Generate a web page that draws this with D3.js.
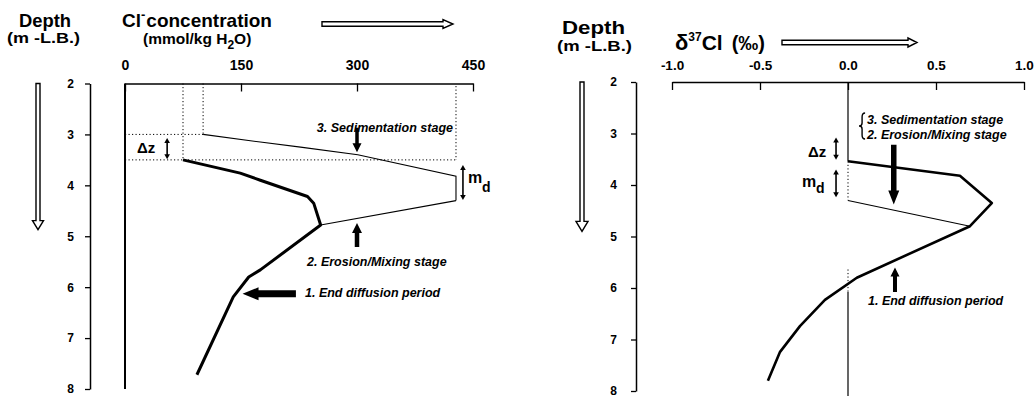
<!DOCTYPE html>
<html>
<head>
<meta charset="utf-8">
<script src="https://cdnjs.cloudflare.com/ajax/libs/d3/7.8.5/d3.min.js"></script>
<style>
  body { margin: 0; background: #fff; }
  svg { display: block; font-family: "Liberation Sans", Arial, sans-serif; }
</style>
</head>
<body>
<div id="chart"></div>
<script>
// tick values
const depthTicks = [2, 3, 4, 5, 6, 7, 8];
const concTicks = [0, 150, 300, 450];
const deltaTicks = [-1.0, -0.5, 0.0, 0.5, 1.0];

// left panel: Cl- (mmol/kg H2O) vs depth (m below lake bottom)
const clEndDiffusion = [[75, 3.5], [149, 3.76], [175, 3.9], [236, 4.22], [244, 4.35], [253, 4.78],
  [175, 5.66], [160, 5.8], [140, 6.19], [93, 7.72]];
const clSedimentation = [[101, 3.0], [175, 3.15], [227, 3.25], [301, 3.4], [428, 3.82], [428, 4.3]];
const clErosion = [[253, 4.78], [428, 4.3]];
// dotted guide lines (conc, depth)
const clGuides = [
  [[75, 2], [75, 3.5]], [[101, 2], [101, 3.0]], [[0, 3.0], [101, 3.0]],
  [[0, 3.5], [428, 3.5]], [[428, 2.05], [428, 3.5]]
];

// right panel: d37Cl (permil) vs depth
const d37EndDiffusion = [[0, 3.54], [0.636, 3.82], [0.817, 4.35], [0.693, 4.8], [0.05, 5.8],
  [-0.131, 6.23], [-0.273, 6.74], [-0.386, 7.24], [-0.455, 7.8]];
const d37Erosion = [[0, 4.3], [0.693, 4.8]];
const zeroSolid = [[[0, 2], [0, 3.54]], [[0, 6.08], [0, 8.1]]];
const zeroDotted = [[[0, 3.54], [0, 4.3]], [[0, 5.64], [0, 6.08]]];

const W = 1035, H = 396;
const svg = d3.select("#chart").append("svg").attr("width", W).attr("height", H);
svg.append("rect").attr("width", W).attr("height", H).attr("fill", "#fff");

const xL = d3.scaleLinear().domain([0, 450]).range([125, 473]);
const yL = d3.scaleLinear().domain([2, 8]).range([83.5, 389]);
const xR = d3.scaleLinear().domain([-1, 1]).range([672, 1024]);
const yR = d3.scaleLinear().domain([2, 8]).range([82, 391]);

// ---- axes ----
function depthAxis(y, x0, pad) {
  const g = svg.append("g").attr("transform", `translate(${x0},0)`)
    .call(d3.axisLeft(y).tickValues(depthTicks).tickFormat(d => d).tickSize(5).tickSizeOuter(0).tickPadding(pad));
  g.attr("font-family", null).attr("font-size", 12).attr("font-weight", "bold");
  g.select(".domain").attr("stroke-width", 1.5);
  g.selectAll(".tick line").attr("stroke-width", 1.3);
}
depthAxis(yL, 90, 11);
depthAxis(yR, 636, 14);

function topAxis(x, y0, ticks, fmt, pad, fs) {
  const g = svg.append("g").attr("transform", `translate(0,${y0})`)
    .call(d3.axisTop(x).tickValues(ticks).tickFormat(fmt).tickSizeInner(-8).tickSizeOuter(0).tickPadding(pad));
  g.attr("font-family", null).attr("font-size", fs).attr("font-weight", "bold");
  g.select(".domain").attr("stroke-width", 1.5);
  g.selectAll(".tick line").attr("stroke-width", 1.3);
}
topAxis(xL, yL(2), concTicks, d => d, 13.5, 14);
topAxis(xR, yR(2), deltaTicks, d => d.toFixed(1), 12, 13.5);

// left frame line at 0 mmol
svg.append("line").attr("x1", xL(0)).attr("x2", xL(0)).attr("y1", yL(2)).attr("y2", yL(8))
  .attr("stroke", "#000").attr("stroke-width", 2);

// ---- curves ----
const lineL = d3.line().x(d => xL(d[0])).y(d => yL(d[1]));
const lineR = d3.line().x(d => xR(d[0])).y(d => yR(d[1]));

clGuides.forEach(s => svg.append("path").attr("d", lineL(s)).attr("fill", "none")
  .attr("stroke", "#000").attr("stroke-width", 1).attr("stroke-dasharray", "1.2,2.3"));
svg.append("path").attr("d", lineL(clSedimentation)).attr("fill", "none").attr("stroke", "#000").attr("stroke-width", 1.1);
svg.append("path").attr("d", lineL(clErosion)).attr("fill", "none").attr("stroke", "#000").attr("stroke-width", 1.1);
svg.append("path").attr("d", lineL(clEndDiffusion)).attr("fill", "none").attr("stroke", "#000")
  .attr("stroke-width", 3).attr("stroke-linejoin", "round");

zeroSolid.forEach(s => svg.append("path").attr("d", lineR(s)).attr("stroke", "#000").attr("stroke-width", 1.2));
zeroDotted.forEach(s => svg.append("path").attr("d", lineR(s)).attr("stroke", "#000")
  .attr("stroke-width", 1).attr("stroke-dasharray", "1.2,2.3"));
svg.append("path").attr("d", lineR(d37Erosion)).attr("fill", "none").attr("stroke", "#000").attr("stroke-width", 1.1);
svg.append("path").attr("d", lineR(d37EndDiffusion)).attr("fill", "none").attr("stroke", "#000")
  .attr("stroke-width", 2.6).attr("stroke-linejoin", "round");

// ---- arrow helpers ----
function arrowPts(x1, y1, x2, y2, sw, hw, hl) {
  const dx = x2 - x1, dy = y2 - y1, L = Math.hypot(dx, dy);
  const ux = dx / L, uy = dy / L, px = -uy, py = ux;
  const bx = x2 - ux * hl, by = y2 - uy * hl;
  return [[x1 + px * sw / 2, y1 + py * sw / 2], [bx + px * sw / 2, by + py * sw / 2],
    [bx + px * hw / 2, by + py * hw / 2], [x2, y2], [bx - px * hw / 2, by - py * hw / 2],
    [bx - px * sw / 2, by - py * sw / 2], [x1 - px * sw / 2, y1 - py * sw / 2]];
}
function solidArrow(x1, y1, x2, y2, sw, hw, hl) {
  svg.append("path").attr("d", "M" + arrowPts(x1, y1, x2, y2, sw, hw, hl).join("L") + "Z").attr("fill", "#000");
}
function hollowArrow(x1, y1, x2, y2, sw, hw, hl) {
  svg.append("path").attr("d", "M" + arrowPts(x1, y1, x2, y2, sw, hw, hl).join("L") + "Z")
    .attr("fill", "#fff").attr("stroke", "#000").attr("stroke-width", 1.4);
}
function doubleArrow(x, y1, y2) {
  svg.append("line").attr("x1", x).attr("x2", x).attr("y1", y1 + 3).attr("y2", y2 - 3)
    .attr("stroke", "#000").attr("stroke-width", 1.6);
  svg.append("path").attr("d", `M${x - 2.8},${y1 + 5}L${x},${y1}L${x + 2.8},${y1 + 5}Z`).attr("fill", "#000");
  svg.append("path").attr("d", `M${x - 2.8},${y2 - 5}L${x},${y2}L${x + 2.8},${y2 - 5}Z`).attr("fill", "#000");
}

// depth direction arrows
hollowArrow(38, yL(2), 38, yL(4.87), 4, 11, 9);
hollowArrow(582, yR(2), 582, yR(4.9), 4, 12, 10);
// header arrows
hollowArrow(322, 24, 453, 24, 4.5, 9, 10);
hollowArrow(782, 42.5, 917, 42.5, 4.5, 9, 9);

// ---- text helpers ----
function txt(x, y, s, fs, opts = {}) {
  const t = svg.append("text").attr("x", x).attr("y", y).attr("font-size", fs)
    .attr("font-weight", opts.weight || "bold").attr("text-anchor", opts.anchor || "start").text(s);
  if (opts.italic) t.attr("font-style", "italic");
  if (opts.len) t.attr("textLength", opts.len).attr("lengthAdjust", "spacingAndGlyphs");
  return t;
}

// left header
txt(19, 27, "Depth", 17.5, { len: 52 });
txt(7, 43, "(m -L.B.)", 14.5, { len: 73 });
const clT = svg.append("text").attr("x", 122).attr("y", 27).attr("font-weight", "bold");
clT.append("tspan").attr("font-size", 19).text("Cl");
clT.append("tspan").attr("font-size", 13).attr("dy", -8).text("-");
clT.append("tspan").attr("font-size", 19).attr("dy", 8).attr("dx", 1).text("concentration");
const unitT = svg.append("text").attr("x", 143).attr("y", 44).attr("font-weight", "bold").attr("font-size", 15.5);
unitT.append("tspan").text("(mmol/kg H");
unitT.append("tspan").attr("font-size", 12).attr("dy", 5).text("2");
unitT.append("tspan").attr("dy", -5).text("O)");

// right header
txt(562, 34, "Depth", 17.5, { len: 63 });
txt(557, 51, "(m -L.B.)", 14.5, { len: 75 });
const dT = svg.append("text").attr("x", 675).attr("y", 50).attr("font-weight", "bold");
dT.append("tspan").attr("font-size", 22).text("δ");
dT.append("tspan").attr("font-size", 12).attr("dy", -9).text("37");
dT.append("tspan").attr("font-size", 21).attr("dy", 9).text("Cl");
dT.append("tspan").attr("font-size", 20).attr("dx", 9).text("(‰)");

// ---- left annotations ----
txt(137, 153, "Δz", 15);
doubleArrow(xL(54.5), yL(3.07), yL(3.49));
txt(468, 183, "m", 16);
txt(482, 192, "d", 14);
doubleArrow(xL(437), yL(3.6), yL(4.29));
txt(453, 132, "3. Sedimentation stage", 12.5, { italic: true, anchor: "end" });
solidArrow(xL(300), yL(2.87), xL(300), yL(3.35), 3.5, 9, 9);
txt(307, 266, "2. Erosion/Mixing stage", 12.5, { italic: true });
solidArrow(xL(300), yL(5.21), xL(300), yL(4.74), 4.5, 10, 10);
txt(305, 297, "1. End diffusion period", 12.5, { italic: true });
solidArrow(xL(221), yL(6.13), xL(152), yL(6.13), 7, 13, 16);

// ---- right annotations ----
txt(808, 157, "Δz", 15);
doubleArrow(xR(-0.068), yR(3.08), yR(3.51));
txt(802, 187, "m", 16);
txt(816, 193, "d", 14);
doubleArrow(xR(-0.068), yR(3.7), yR(4.24));
// brace
const bx = xR(0.08), by0 = 113, by1 = 139, bm = (by0 + by1) / 2;
svg.append("path")
  .attr("d", `M${bx + 3},${by0} Q${bx},${by0} ${bx},${by0 + 4} V${bm - 3} Q${bx},${bm} ${bx - 3},${bm} Q${bx},${bm} ${bx},${bm + 3} V${by1 - 4} Q${bx},${by1} ${bx + 3},${by1}`)
  .attr("fill", "none").attr("stroke", "#000").attr("stroke-width", 1.4);
txt(867, 124, "3. Sedimentation stage", 12.5, { italic: true });
txt(867, 139, "2. Erosion/Mixing stage", 12.5, { italic: true });
solidArrow(xR(0.26), yR(3.22), xR(0.26), yR(4.38), 5.5, 11, 14);
txt(868, 305, "1. End diffusion period", 12.5, { italic: true });
solidArrow(xR(0.267), yR(6.08), xR(0.267), yR(5.6), 4, 9, 9);
</script>
</body>
</html>
